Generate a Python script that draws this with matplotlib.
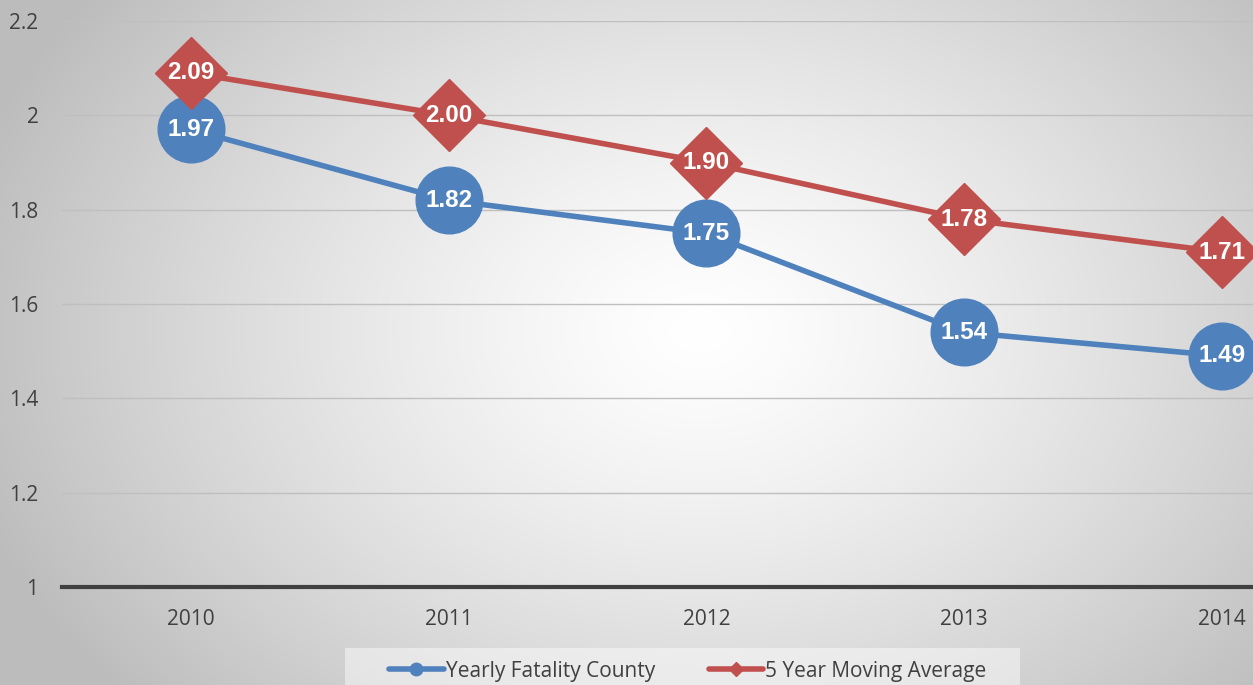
import numpy as np
import matplotlib
matplotlib.use("Agg")
import matplotlib.pyplot as plt
from matplotlib.patches import Rectangle

years = ["2010", "2011", "2012", "2013", "2014"]
yearly = [1.97, 1.82, 1.75, 1.54, 1.49]
moving = [2.09, 2.00, 1.90, 1.78, 1.71]
series_names = ["Yearly Fatality County", "5 Year Moving Average"]
yticks = [1, 1.2, 1.4, 1.6, 1.8, 2, 2.2]
ytick_labels = ["1", "1.2", "1.4", "1.6", "1.8", "2", "2.2"]

W, H = 1253, 685
fig = plt.figure(figsize=(W / 100, H / 100), dpi=100)

# radial gradient background
bg = fig.add_axes([0, 0, 1, 1], zorder=-10)
yy, xx = np.mgrid[0:H, 0:W]
cx, cy = 700, 330
r = np.sqrt(((xx - cx) / 760.0) ** 2 + ((yy - cy) / 560.0) ** 2)
r = np.clip(r, 0, 1)
val = 1.0 - 0.26 * r ** 1.3
bg.imshow(np.dstack([val, val, val]), aspect="auto", extent=[0, 1, 0, 1], origin="upper")
bg.set_axis_off()

left = 62 / W
bottom = (H - 587) / H
top = (H - 21) / H
ax = fig.add_axes([left, bottom, 1 - left, top - bottom])
ax.patch.set_alpha(0)
x = np.arange(len(years))
ax.set_xlim(-0.5, -0.5 + (W - 62) / 257.75)
ax.set_ylim(1, 2.2)

for yv in yticks[1:]:
    ax.axhline(yv, color="#bfbfbf", lw=1.0, zorder=1)
ax.axhline(1, color="#404040", lw=3.0, zorder=2, clip_on=False)

blue = "#4F81BD"
red = "#C0504D"
ax.plot(x, yearly, color=blue, lw=4, marker="o", ms=48, zorder=3, solid_capstyle="round")
ax.plot(x, moving, color=red, lw=4, marker="D", ms=37, zorder=4, solid_capstyle="round")
for xi, v in zip(x, yearly):
    ax.text(xi, v, f"{v:.2f}", color="white", ha="center", va="center",
            fontsize=17.5, fontweight="bold", family="Liberation Sans", zorder=5)
for xi, v in zip(x, moving):
    ax.text(xi, v, f"{v:.2f}", color="white", ha="center", va="center",
            fontsize=17.5, fontweight="bold", family="Liberation Sans", zorder=5)

ax.set_xticks(x)
ax.set_xticklabels(years)
ax.set_yticks(yticks)
ax.set_yticklabels(ytick_labels)
for lab in ax.get_xticklabels() + ax.get_yticklabels():
    lab.set_family("Open Sans")
    lab.set_fontsize(15)
    lab.set_color("#404040")
ax.tick_params(axis="both", length=0)
ax.tick_params(axis="x", pad=16)
ax.tick_params(axis="y", pad=17)
for s in ax.spines.values():
    s.set_visible(False)

# legend box
fig.patches.append(Rectangle((345 / W, 0), (1020 - 345) / W, (685 - 648) / H,
                             transform=fig.transFigure, facecolor="white",
                             alpha=0.45, edgecolor="none", zorder=0))
h1, = ax.plot([], [], color=blue, lw=4, marker="o", ms=9, solid_capstyle="round")
h2, = ax.plot([], [], color=red, lw=4, marker="D", ms=7, solid_capstyle="round")
leg = fig.legend([h1, h2], series_names, loc="center", bbox_to_anchor=(688 / W, (685 - 671) / H),
                 ncol=2, frameon=False, handlelength=2.6, handletextpad=0.1,
                 columnspacing=2.6, prop={"family": "Open Sans", "size": 15})
for t in leg.get_texts():
    t.set_color("#404040")

fig.savefig("out.png", dpi=100)
